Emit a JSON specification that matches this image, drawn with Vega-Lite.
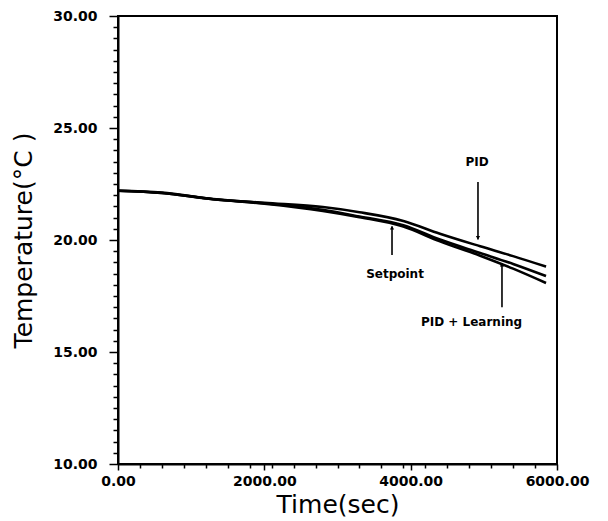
{
  "$schema": "https://vega.github.io/schema/vega-lite/v6.json",
  "width": 439,
  "height": 448,
  "autosize": {"type": "none"},
  "padding": {"left": 118, "top": 16, "right": 51, "bottom": 57},
  "background": "white",
  "config": {
    "view": {"stroke": "black", "strokeWidth": 2},
    "axis": {
      "domainColor": "black",
      "domainWidth": 2,
      "tickColor": "black",
      "tickWidth": 1.5,
      "grid": false,
      "labelOverlap": false,
      "labelFont": "DejaVu Sans",
      "labelFontWeight": "bold",
      "labelFontSize": 14,
      "labelColor": "black",
      "titleFont": "DejaVu Sans",
      "titleFontWeight": "normal",
      "titleFontSize": 25,
      "titleColor": "black"
    }
  },
  "datasets": {
    "curves": [
      {"t": 0, "temp": 22.2, "series": "Setpoint"},
      {"t": 600, "temp": 22.1, "series": "Setpoint"},
      {"t": 1300, "temp": 21.82, "series": "Setpoint"},
      {"t": 2000, "temp": 21.62, "series": "Setpoint"},
      {"t": 2800, "temp": 21.3, "series": "Setpoint"},
      {"t": 3300, "temp": 21.02, "series": "Setpoint"},
      {"t": 3900, "temp": 20.6, "series": "Setpoint"},
      {"t": 4400, "temp": 19.94, "series": "Setpoint"},
      {"t": 4950, "temp": 19.3, "series": "Setpoint"},
      {"t": 5400, "temp": 18.72, "series": "Setpoint"},
      {"t": 5850, "temp": 18.08, "series": "Setpoint"},
      {"t": 0, "temp": 22.2, "series": "PID + Learning"},
      {"t": 600, "temp": 22.1, "series": "PID + Learning"},
      {"t": 1300, "temp": 21.82, "series": "PID + Learning"},
      {"t": 2000, "temp": 21.64, "series": "PID + Learning"},
      {"t": 2800, "temp": 21.35, "series": "PID + Learning"},
      {"t": 3300, "temp": 21.05, "series": "PID + Learning"},
      {"t": 3900, "temp": 20.66, "series": "PID + Learning"},
      {"t": 4400, "temp": 20.02, "series": "PID + Learning"},
      {"t": 4950, "temp": 19.42, "series": "PID + Learning"},
      {"t": 5400, "temp": 18.93, "series": "PID + Learning"},
      {"t": 5850, "temp": 18.39, "series": "PID + Learning"},
      {"t": 0, "temp": 22.2, "series": "PID"},
      {"t": 600, "temp": 22.12, "series": "PID"},
      {"t": 1300, "temp": 21.83, "series": "PID"},
      {"t": 2000, "temp": 21.66, "series": "PID"},
      {"t": 2800, "temp": 21.47, "series": "PID"},
      {"t": 3300, "temp": 21.24, "series": "PID"},
      {"t": 3900, "temp": 20.85, "series": "PID"},
      {"t": 4400, "temp": 20.28, "series": "PID"},
      {"t": 4950, "temp": 19.72, "series": "PID"},
      {"t": 5400, "temp": 19.28, "series": "PID"},
      {"t": 5850, "temp": 18.81, "series": "PID"}
    ],
    "arrows": [
      {"t": 4920, "y1": 22.59, "y2": 20.02, "head": 20.1, "shape": "triangle-down", "label": "PID"},
      {"t": 3745, "y1": 20.6, "y2": 19.33, "head": 20.55, "shape": "triangle-up", "label": "Setpoint"},
      {"t": 5248, "y1": 18.95, "y2": 17.0, "head": 18.9, "shape": "triangle-up", "label": "PID + Learning"}
    ],
    "labels": [
      {"t": 4907, "temp": 23.48, "text": "PID"},
      {"t": 3786, "temp": 18.48, "text": "Setpoint"},
      {"t": 4832, "temp": 16.34, "text": "PID + Learning"}
    ]
  },
  "layer": [
    {
      "data": {"name": "curves"},
      "mark": {"type": "line", "color": "black", "strokeWidth": 2.6, "interpolate": "monotone"},
      "encoding": {
        "x": {
          "field": "t", "type": "quantitative",
          "scale": {"domain": [0, 6000], "nice": false, "zero": false},
          "axis": {
            "title": "Time(sec)",
            "values": [0, 300, 600, 900, 1200, 1500, 1800, 2000, 2100, 2400, 2700, 3000, 3300, 3600, 3900, 4000, 4200, 4500, 4800, 5100, 5400, 5700, 6000],
            "tickCount": 200,
            "labelExpr": "datum.value % 2000 === 0 ? format(datum.value, '.2f') : ''",
            "tickSize": {"condition": {"test": "datum.value % 2000 === 0", "value": 6}, "value": 4},
            "labelPadding": 4,
            "titlePadding": 4,
            "labelFlush": false,
            "labelOverlap": false
          }
        },
        "y": {
          "field": "temp", "type": "quantitative",
          "scale": {"domain": [10, 30], "nice": false, "zero": false},
          "axis": {
            "title": "Temperature(°C )",
            "values": [10, 10.5, 11, 11.5, 12, 12.5, 13, 13.5, 14, 14.5, 15, 15.5, 16, 16.5, 17, 17.5, 18, 18.5, 19, 19.5, 20, 20.5, 21, 21.5, 22, 22.5, 23, 23.5, 24, 24.5, 25, 25.5, 26, 26.5, 27, 27.5, 28, 28.5, 29, 29.5, 30],
            "tickCount": 200,
            "labelExpr": "datum.value % 5 === 0 ? format(datum.value, '.2f') : ''",
            "tickSize": {"condition": {"test": "datum.value % 5 === 0", "value": 9}, "value": 5},
            "labelPadding": 12,
            "titlePadding": 16,
            "labelFlush": false,
            "labelOverlap": false
          }
        },
        "detail": {"field": "series"}
      }
    },
    {
      "data": {"name": "arrows"},
      "mark": {"type": "rule", "color": "black", "strokeWidth": 1.6},
      "encoding": {
        "x": {"field": "t", "type": "quantitative"},
        "y": {"field": "y1", "type": "quantitative"},
        "y2": {"field": "y2"}
      }
    },
    {
      "data": {"name": "arrows"},
      "mark": {"type": "point", "filled": true, "color": "black", "size": 18, "opacity": 1},
      "encoding": {
        "x": {"field": "t", "type": "quantitative"},
        "y": {"field": "head", "type": "quantitative"},
        "shape": {"field": "shape", "type": "nominal", "scale": null, "legend": null}
      }
    },
    {
      "data": {"name": "labels"},
      "mark": {"type": "text", "font": "DejaVu Sans", "fontWeight": "bold", "fontSize": 12, "color": "black", "align": "center", "baseline": "middle"},
      "encoding": {
        "x": {"field": "t", "type": "quantitative"},
        "y": {"field": "temp", "type": "quantitative"},
        "text": {"field": "text"}
      }
    }
  ]
}
